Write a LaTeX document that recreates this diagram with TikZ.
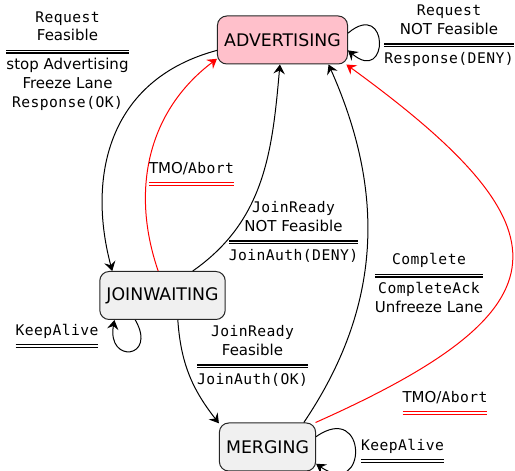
\documentclass[tikz,border=0pt]{standalone}
\usepackage{fontspec}
\setmainfont{DejaVu Sans}
\newfontfamily\monofont[LetterSpace=3]{DejaVu Sans Mono}
\usepackage{colortbl}
\usetikzlibrary{arrows.meta}

\definecolor{advpink}{RGB}{255,192,203}
\setlength\arrayrulewidth{0.9pt}
\setlength\doublerulesep{1pt}
\newcommand\mo[1]{{\monofont\fontsize{11pt}{14pt}\selectfont #1}}
\newcommand\act[3][black]{\arrayrulecolor{#1}\begin{tabular}{@{}c@{}}#2\\[2.5pt]\hline\hline\noalign{\vskip 2.5pt}#3\end{tabular}}
\newcommand\trig[2][black]{\arrayrulecolor{#1}\begin{tabular}{@{}c@{}}#2\\[2.5pt]\hline\hline\end{tabular}}

\begin{document}
\begin{tikzpicture}[x=0.75pt, y=0.75pt,
  state/.style={draw=black!85, line width=0.75pt, rounded corners=7pt, fill=gray!12,
    minimum height=36pt, inner xsep=5pt, font=\fontsize{13pt}{15pt}\selectfont},
  lbl/.style={inner sep=0pt, font=\fontsize{11.25pt}{14pt}\selectfont},
  trans/.style={-{Stealth[length=7pt,width=8.5pt,inset=2.5pt]}, line width=0.75pt},
  abort/.style={trans, red}]
  \useasboundingbox (0,0) rectangle (515,471);
  % states
  \node[state, fill=advpink] (adv) at (282.5,431) {ADVERTISING};
  \node[state] (jw)  at (162.5,175.5) {JOINWAITING};
  \node[state] (mrg) at (267.5,24) {MERGING};
  % transitions
  \draw[trans] (adv.189) to[out=195,in=105,out looseness=1.2] (jw.154);
  \draw[abort] (jw.100) to[out=109,in=217] (adv.196);
  \draw[trans] (jw.39) to[out=35,in=265] (adv.264);
  \draw[trans] (mrg.34) to[out=56,in=294] (adv.332);
  \draw[abort] (mrg.27) to[out=24,in=324,looseness=2] (adv.339);
  \draw[trans] (jw.302) to[out=-86,in=128] (mrg.154);
  \draw[trans] (adv.6) to[out=40,in=-40,looseness=8] (adv.-9);
  \draw[trans] (jw.222) to[out=-60,in=-100,looseness=5.5] (jw.207);
  \draw[trans] (mrg.12) to[out=35,in=-35,looseness=6] (mrg.-19);
  % labels
  \node[lbl] (reqok) at (67.5,410) {\act{\mo{Request}\\Feasible}{stop Advertising\\Freeze Lane\\\mo{Response(OK)}}};
  \node[lbl] (reqdeny) at (449,435) {\act{\mo{Request}\\NOT Feasible}{\mo{Response(DENY)}}};
  \node[lbl] (tmojw) at (191.5,298) {\trig[red]{TMO/\mo{Abort}}};
  \node[lbl] (jrdeny) at (293.5,238) {\act{\mo{JoinReady}\\NOT Feasible}{\mo{JoinAuth(DENY)}}};
  \node[lbl] (compl) at (429,186) {\act{\mo{Complete}}{\mo{CompleteAck}\\Unfreeze Lane}};
  \node[lbl] (kajw) at (57,136) {\trig{\mo{KeepAlive}}};
  \node[lbl] (jrok) at (252.5,114) {\act{\mo{JoinReady}\\Feasible}{\mo{JoinAuth(OK)}}};
  \node[lbl] (tmomrg) at (445,69) {\trig[red]{TMO/\mo{Abort}}};
  \node[lbl] (kamrg) at (402.5,21) {\trig{\mo{KeepAlive}}};
\end{tikzpicture}
\end{document}
